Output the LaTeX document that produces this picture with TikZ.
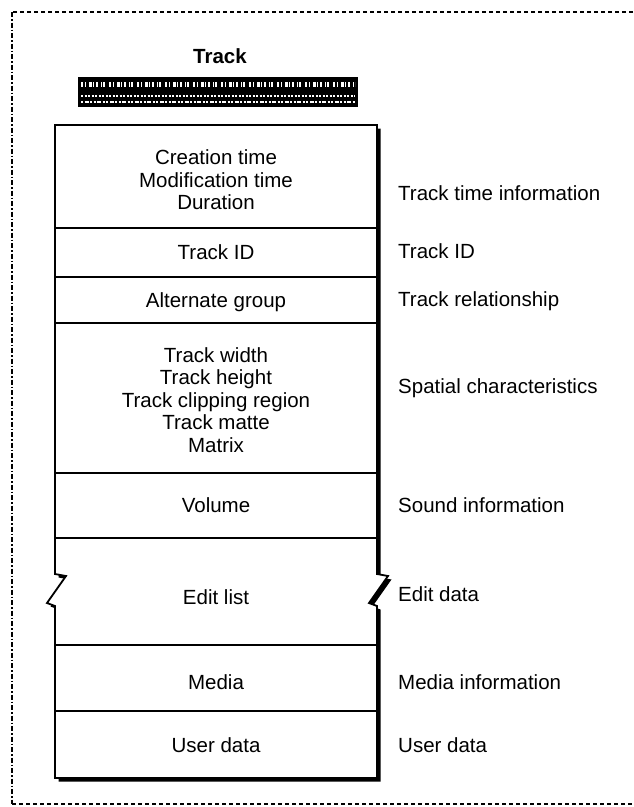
\documentclass[tikz,border=0pt]{standalone}
\usepackage{fontspec}
\setmainfont{Liberation Sans}
\begin{document}
\begin{tikzpicture}[x=1pt,y=-1pt,
  txt/.style={font=\fontsize{20.5}{22.5}\selectfont, inner sep=0pt},
  cell/.style={txt, align=center},
  cellone/.style={txt, anchor=base},
  side/.style={txt, anchor=base west},
  heading/.style={font=\fontsize{20.5}{22.5}\selectfont\bfseries, inner sep=0pt},
  framebox/.style={line width=1.3pt, dash pattern=on 4pt off 3pt},
  frameside/.style={line width=1.3pt, dash pattern=on 5pt off 2pt on 1.5pt off 2pt},
  divider/.style={line width=1.7pt},
  outline/.style={line width=1.8pt, fill=white, line join=miter}]
\useasboundingbox (0,0) rectangle (633,807);

% dashed frame around the figure (open to the right)
\draw[framebox] (633,12) -- (12,12);
\draw[frameside] (12,12) -- (12,804);
\draw[framebox] (12,804) -- (633,804);

% heading and its patterned bar
\node[heading] (title) at (220,56) {Track};
\fill (78,77) rectangle (358,107);
\draw[white, line width=5pt,
  dash pattern=on 2pt off 2pt on 1pt off 3pt on 3pt off 1pt on 1pt off 2pt on 2pt off 3pt on 1pt off 1pt on 2pt off 4pt]
  (81,84) -- (355,84);
\draw[white, line width=2pt, dash pattern=on 2pt off 1.5pt] (81,96) -- (355,96);
\draw[white, line width=2pt, dash pattern=on 2pt off 1.5pt on 4pt off 1.5pt on 2pt off 1.5pt] (81,102) -- (355,102);

% record outline with the broken edit-list section
\newcommand\trkoutline{(55,125) -- (377,125) -- (377,574) -- (388,576) -- (369,603) -- (377,606)
  -- (377,778) -- (55,778) -- (55,606) -- (47,603) -- (66,576) -- (55,574) -- cycle}
\begin{scope}[shift={(3.5,3.5)}]
  \fill \trkoutline;
\end{scope}
\draw[outline] \trkoutline;

% section dividers
\foreach \yy in {228,277,323,473,538,645,711}
  \draw[divider] (55,\yy) -- (377,\yy);

% field names
\node[cell] (times) at (216,180) {Creation time\\Modification time\\Duration};
\node[cellone] (trackid) at (216,259) {Track ID};
\node[cellone] (altgroup) at (216,307) {Alternate group};
\node[cell] (spatial) at (216,400) {Track width\\Track height\\Track clipping region\\Track matte\\Matrix};
\node[cellone] (volume) at (216,512) {Volume};
\node[cellone] (editlist) at (216,604) {Edit list};
\node[cellone] (media) at (216,689) {Media};
\node[cellone] (userdata) at (216,752) {User data};

% descriptions
\node[side] (dtime) at (398,200) {Track time information};
\node[side] (did) at (398,258) {Track ID};
\node[side] (drel) at (398,306) {Track relationship};
\node[side] (dspat) at (398,393) {Spatial characteristics};
\node[side] (dsound) at (398,512) {Sound information};
\node[side] (dedit) at (398,601) {Edit data};
\node[side] (dmedia) at (398,689) {Media information};
\node[side] (duser) at (398,752) {User data};
\end{tikzpicture}
\end{document}
